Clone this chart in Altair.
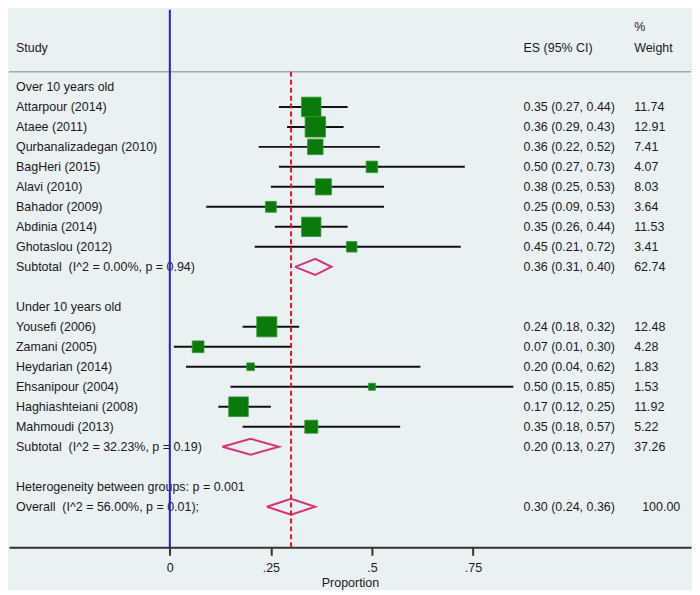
import altair as alt
import pandas as pd

# ---------------- data ----------------
group_titles = ["Over 10 years old", "Under 10 years old"]

g1_studies = ["Attarpour (2014)", "Ataee (2011)", "Qurbanalizadegan (2010)", "BagHeri (2015)",
              "Alavi (2010)", "Bahador (2009)", "Abdinia (2014)", "Ghotaslou (2012)"]
g1_es = [0.35, 0.36, 0.36, 0.50, 0.38, 0.25, 0.35, 0.45]
g1_lo = [0.27, 0.29, 0.22, 0.27, 0.25, 0.09, 0.26, 0.21]
g1_hi = [0.44, 0.43, 0.52, 0.73, 0.53, 0.53, 0.44, 0.72]
g1_w = [11.74, 12.91, 7.41, 4.07, 8.03, 3.64, 11.53, 3.41]
g1_sub_label = "Subtotal\u00a0 (I^2 = 0.00%, p = 0.94)"
g1_sub = [0.36, 0.31, 0.40, 62.74]

g2_studies = ["Yousefi (2006)", "Zamani (2005)", "Heydarian (2014)", "Ehsanipour (2004)",
              "Haghiashteiani (2008)", "Mahmoudi (2013)"]
g2_es = [0.24, 0.07, 0.20, 0.50, 0.17, 0.35]
g2_lo = [0.18, 0.01, 0.04, 0.15, 0.12, 0.18]
g2_hi = [0.32, 0.30, 0.62, 0.85, 0.25, 0.57]
g2_w = [12.48, 4.28, 1.83, 1.53, 11.92, 5.22]
g2_sub_label = "Subtotal\u00a0 (I^2 = 32.23%, p = 0.19)"
g2_sub = [0.20, 0.13, 0.27, 37.26]

het_label = "Heterogeneity between groups: p = 0.001"
overall_label = "Overall\u00a0 (I^2 = 56.00%, p = 0.01);"
overall = [0.30, 0.24, 0.36, 100.00]

header_study = "Study"
header_es = "ES (95% CI)"
header_pct = "%"
header_weight = "Weight"

axis_ticks = [0, 0.25, 0.5, 0.75]

# ---------------- build tables ----------------
study_rows = []
label_rows = []
pooled_rows = []
row = 0
for title, names, es, lo, hi, w, sub_label, sub in [
    (group_titles[0], g1_studies, g1_es, g1_lo, g1_hi, g1_w, g1_sub_label, g1_sub),
    (group_titles[1], g2_studies, g2_es, g2_lo, g2_hi, g2_w, g2_sub_label, g2_sub),
]:
    label_rows.append({"row": row, "label": title, "es_txt": "", "w_txt": "", "shift": 0})
    row += 1
    for n, e, l, h, ww in zip(names, es, lo, hi, w):
        study_rows.append({"row": row, "es": e, "lo": l, "hi": h, "w": ww})
        label_rows.append({"row": row, "label": n,
                           "es_txt": f"{e:.2f} ({l:.2f}, {h:.2f})", "w_txt": f"{ww:.2f}", "shift": 0})
        row += 1
    pooled_rows.append({"row": row, "es": sub[0], "lo": sub[1], "hi": sub[2]})
    label_rows.append({"row": row, "label": sub_label,
                       "es_txt": f"{sub[0]:.2f} ({sub[1]:.2f}, {sub[2]:.2f})", "w_txt": f"{sub[3]:.2f}",
                       "shift": 0})
    row += 2

label_rows.append({"row": row, "label": het_label, "es_txt": "", "w_txt": "", "shift": 0})
row += 1
pooled_rows.append({"row": row, "es": overall[0], "lo": overall[1], "hi": overall[2]})
label_rows.append({"row": row, "label": overall_label,
                   "es_txt": f"{overall[0]:.2f} ({overall[1]:.2f}, {overall[2]:.2f})",
                   "w_txt": f"{overall[3]:.2f}", "shift": 1})

studies_df = pd.DataFrame(study_rows)
labels_df = pd.DataFrame(label_rows)

half = 0.4
diamond_pts = []
for i, p in enumerate(pooled_rows):
    pts = [(p["lo"], p["row"]), (p["es"], p["row"] - half), (p["hi"], p["row"]),
           (p["es"], p["row"] + half), (p["lo"], p["row"])]
    for k, (xv, yv) in enumerate(pts):
        diamond_pts.append({"id": i, "ord": k, "x": xv, "y": yv})
diamond_df = pd.DataFrame(diamond_pts)

# ---------------- scales ----------------
XMIN, XMAX = -0.398, 1.2897
YTOP, YBOT = -3.855, 23.03
HEADER_ROW = -1.95
PCT_ROW = -3.0
LINE_ROW = -0.76

xs = alt.Scale(domain=[XMIN, XMAX], nice=False, zero=False)
ys = alt.Scale(domain=[YTOP, YBOT], nice=False, zero=False, reverse=True)

FONT = "Liberation Sans"
FS = 12.5
TXT = "#1a1a1a"

x_axis = alt.Axis(values=axis_ticks,
                  labelExpr="datum.value == 0 ? '0' : replace(format(datum.value, '.2~f'), '0.', '.')",
                  grid=False, domainColor="#333333", domainWidth=2, tickColor="#333333",
                  tickWidth=2, tickSize=8, labelFont=FONT, labelFontSize=FS, labelColor=TXT,
                  labelPadding=6, labelFlush=False, title="Proportion", titleFont=FONT,
                  titleFontSize=FS, titleFontWeight="normal", titleColor=TXT, titlePadding=3)


def X(field):
    return alt.X(field, scale=xs, axis=x_axis)


def Y(field):
    return alt.Y(field, scale=ys, axis=None)


# header separator line
hline = alt.Chart(pd.DataFrame({"a": [XMIN], "b": [XMAX], "r": [LINE_ROW]})).mark_rule(
    color="#a8a8a8", strokeWidth=1.5).encode(x=X("a:Q"), x2="b:Q", y=Y("r:Q"))

# CI lines
ci = alt.Chart(studies_df).mark_rule(color="#111111", strokeWidth=2).encode(
    x=X("lo:Q"), x2="hi:Q", y=Y("row:Q"))

# weight squares
squares = alt.Chart(studies_df).mark_square(filled=True, color="#0a7a0a", opacity=1,
                                            stroke="#2f9a2f", strokeWidth=0.8).encode(
    x=X("es:Q"), y=Y("row:Q"),
    size=alt.Size("w:Q", scale=alt.Scale(domain=[0, 100], range=[0, 3250]), legend=None))

# diamonds
diamonds = alt.Chart(diamond_df).mark_line(color="#d9307c", strokeWidth=2).encode(
    x=X("x:Q"), y=Y("y:Q"), detail="id:N", order="ord:Q")

text_base = dict(font=FONT, fontSize=FS, color=TXT, baseline="middle", align="left")

study_txt = alt.Chart(labels_df).mark_text(**text_base).encode(
    x=alt.value(7), y=Y("row:Q"), text="label:N")
es_txt = alt.Chart(labels_df).mark_text(**text_base).encode(
    x=alt.value(516), y=Y("row:Q"), text="es_txt:N")
w_txt = alt.Chart(labels_df).transform_filter("datum.shift == 0").mark_text(**text_base).encode(
    x=alt.value(627), y=Y("row:Q"), text="w_txt:N")
w_txt2 = alt.Chart(labels_df).transform_filter("datum.shift == 1").mark_text(**text_base).encode(
    x=alt.value(635), y=Y("row:Q"), text="w_txt:N")

hdr_df = pd.DataFrame({"r": [HEADER_ROW], "rp": [PCT_ROW]})
h_study = alt.Chart(hdr_df).mark_text(text=header_study, **text_base).encode(
    x=alt.value(7), y=Y("r:Q"))
h_es = alt.Chart(hdr_df).mark_text(text=header_es, **text_base).encode(
    x=alt.value(516), y=Y("r:Q"))
h_pct = alt.Chart(hdr_df).mark_text(text=header_pct, **text_base).encode(
    x=alt.value(627), y=Y("rp:Q"))
h_w = alt.Chart(hdr_df).mark_text(text=header_weight, **text_base).encode(
    x=alt.value(627), y=Y("r:Q"))

# reference lines
blue = alt.Chart(pd.DataFrame({"x0": [0.0], "a": [YTOP], "b": [YBOT]})).mark_rule(
    color="#1f1fe6", strokeWidth=2).encode(x=X("x0:Q"), y=Y("a:Q"), y2="b:Q")
red = alt.Chart(pd.DataFrame({"x0": [overall[0]], "a": [LINE_ROW], "b": [YBOT]})).mark_rule(
    color="#e8141c", strokeWidth=2, strokeDash=[5, 3]).encode(x=X("x0:Q"), y=Y("a:Q"), y2="b:Q")

chart = alt.layer(hline, ci, squares, diamonds, study_txt, es_txt, w_txt, w_txt2,
                  h_study, h_es, h_pct, h_w, blue, red).properties(
    width=684, height=539, padding=0, background="#eaf1f3"
).configure_view(stroke=None)

chart.save("out.html", embed_options={"renderer": "svg", "actions": False})
